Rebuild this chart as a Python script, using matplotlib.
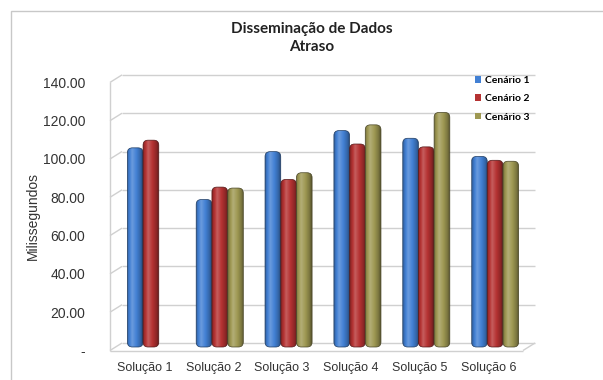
import numpy as np
import matplotlib
matplotlib.use("Agg")
import matplotlib.pyplot as plt
from matplotlib.patches import FancyBboxPatch, Rectangle, Patch
from matplotlib.colors import to_rgb

# ---- data -------------------------------------------------------------
categories = ["Solução 1", "Solução 2", "Solução 3", "Solução 4", "Solução 5", "Solução 6"]
series_names = ["Cenário 1", "Cenário 2", "Cenário 3"]
cenario1 = [104.0, 77.0, 102.0, 113.0, 109.0, 99.5]
cenario2 = [108.0, 83.5, 87.5, 106.0, 104.5, 97.5]
cenario3 = [np.nan, 83.0, 91.0, 116.0, 122.5, 97.0]
y_ticks = [0, 20, 40, 60, 80, 100, 120, 140]
y_tick_labels = ["-", "20.00", "40.00", "60.00", "80.00", "100.00", "120.00", "140.00"]
series_colors = ["#4280d4", "#b53232", "#9e9852"]

plt.rcParams["font.family"] = ["Liberation Sans", "DejaVu Sans"]

W, H = 603, 380
fig = plt.figure(figsize=(W / 100, H / 100), dpi=100)
fig.patch.set_facecolor("white")

# plot box (front plane) in pixels
left_px, right_px, bottom_px, top_px = 110, 523, 350.5, 60
ax = fig.add_axes([left_px / W, (H - bottom_px) / H,
                   (right_px - left_px) / W, (bottom_px - top_px) / H])
ax.set_facecolor("none")
xmin, xmax = -0.5, len(categories) - 0.5
px_per_y = 1.915
ymax = (bottom_px - top_px) / px_per_y
px_per_x = (right_px - left_px) / (xmax - xmin)


def dx(px):
    return px / px_per_x


def dy(px):
    return px / px_per_y


# ---- pseudo-3D walls ----------------------------------------------------
depth_x, depth_y = dx(12), dy(7.5)
grid_color = "#d0d0d0"
line_kw = dict(color=grid_color, lw=1.0, zorder=1, clip_on=False, solid_capstyle="butt")
for v in y_ticks:
    ax.plot([xmin + depth_x, xmax + depth_x], [v + depth_y] * 2, **line_kw)
    ax.plot([xmin, xmin + depth_x], [v, v + depth_y], **line_kw)
ax.plot([xmin, xmin], [0, y_ticks[-1]], **line_kw)
ax.plot([xmin, xmax], [0, 0], **line_kw)
ax.plot([xmax, xmax + depth_x], [0, depth_y], **line_kw)

# ---- cylinder-like bars -------------------------------------------------
x = np.arange(len(categories))
bar_w = dx(15.7)
shift_x, shift_y = dx(6.5), dy(3.5)
t = np.linspace(0, 1, 64)
profile = np.interp(t, [0, 0.1, 0.32, 0.6, 0.85, 1.0], [0.70, 0.92, 1.18, 1.0, 0.78, 0.55])

for k, (vals, col) in enumerate(zip([cenario1, cenario2, cenario3], series_colors)):
    base = np.array(to_rgb(col))
    strip = np.empty((len(t), 3))
    for j, f in enumerate(profile):
        if f >= 1:
            strip[j] = base + (1 - base) * (f - 1) * 1.2
        else:
            strip[j] = base * f
    img = np.clip(strip, 0, 1)[None, :, :]
    edge = base * 0.45
    for i, v in enumerate(vals):
        if np.isnan(v):
            continue
        x0 = x[i] + shift_x + (k - 1.5) * bar_w
        y0 = shift_y
        body = FancyBboxPatch((x0, y0), bar_w, v,
                              boxstyle=f"round,pad=0,rounding_size={dx(5)}",
                              mutation_aspect=dy(5) / dx(5),
                              facecolor="none", edgecolor=edge, lw=0.5,
                              zorder=3 + 2 * k + 1)
        ax.add_patch(body)
        im = ax.imshow(img, extent=[x0, x0 + bar_w, y0, y0 + v], aspect="auto",
                       interpolation="bilinear", zorder=3 + 2 * k)
        im.set_clip_path(body)

ax.set_xlim(xmin, xmax)
ax.set_ylim(0, ymax)
for s in ax.spines.values():
    s.set_visible(False)

ax.set_yticks(y_ticks, y_tick_labels)
ax.set_xticks(x, categories)
ax.tick_params(axis="y", length=0, pad=18, labelsize=10, labelcolor="#333333")
ax.tick_params(axis="x", length=0, pad=8, labelsize=9, labelcolor="#333333")

# ---- titles ---------------------------------------------------------------
title_kw = dict(ha="center", va="center", family=["Lato", "DejaVu Sans"],
                weight="bold", size=11, color="#222222")
fig.text(312 / W, 1 - 29 / H, "Disseminação de Dados", **title_kw)
fig.text(312 / W, 1 - 47 / H, "Atraso", **title_kw)
fig.text(33 / W, 1 - 216 / H, "Milissegundos", rotation=90, ha="center",
         va="center", size=10, color="#333333")

# ---- legend -----------------------------------------------------------
handles = [Patch(facecolor=c, edgecolor="none") for c in series_colors]
ax.legend(handles, series_names, loc="upper left",
          bbox_to_anchor=(475 / W, 1 - 76 / H), bbox_transform=fig.transFigure,
          frameon=False, borderpad=0, borderaxespad=0,
          handlelength=0.6, handleheight=0.6, handletextpad=0.35,
          labelspacing=0.9,
          prop=dict(family=["Lato", "DejaVu Sans"], weight="bold", size=7.5))

# ---- outer chart border ---------------------------------------------------
fig.add_artist(Rectangle((11 / W, -0.05), 1.2, (H - 11) / H + 0.05,
                         transform=fig.transFigure, fill=False,
                         edgecolor="#c8c8c8", lw=1.0))

fig.savefig("out.png", dpi=100)
